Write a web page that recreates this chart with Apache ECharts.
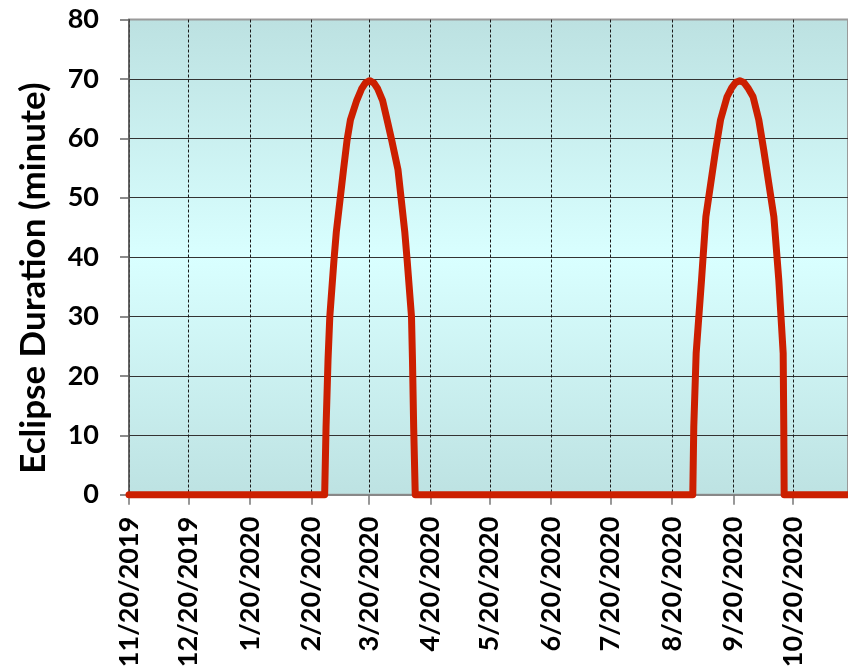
<!DOCTYPE html>
<html>
<head>
<meta charset="utf-8">
<script src="https://cdn.jsdelivr.net/npm/echarts@6/dist/echarts.min.js"></script>
<style>
html,body{margin:0;padding:0;background:#fff;}
#chart{width:848px;height:671px;}
</style>
</head>
<body>
<div id="chart"></div>
<script>
// ---- data (day offsets are days after 11/20/2019) ----
const axisStart = '11/20/2019';
const visibleEndDay = 362.7;   // the picture is cut off just before 11/20/2020
const tickLabels = ['11/20/2019','12/20/2019','1/20/2020','2/20/2020','3/20/2020','4/20/2020',
  '5/20/2020','6/20/2020','7/20/2020','8/20/2020','9/20/2020','10/20/2020'];
const yTicks = [0,10,20,30,40,50,60,70,80];

const offSeasonDay = [0, 366];

const season1Day = [98.7, 99.4, 100.4, 101.3, 103.4, 104.6, 108.2, 110.0, 111.7, 114.9, 117.3, 119.2, 121.4,
  123.6, 125.5, 127.9, 130.2, 132.5, 135.7, 139.1, 140.3, 142.5, 143.0, 143.6, 144.4];
const season1Min = [0, 11.4, 22.7, 30.0, 39.5, 44.3, 54.7, 59.7, 63.1, 66.4, 68.3, 69.3, 69.7,
  69.3, 68.3, 66.4, 63.1, 59.7, 54.7, 44.3, 39.5, 30.0, 22.7, 11.4, 0];

const season2Day = [284.4, 284.9, 286.1, 288.8, 291.0, 295.9, 298.4, 301.7, 304.0, 306.0, 308.1,
  310.2, 312.2, 314.8, 317.7, 320.2, 325.3, 327.8, 330.0, 330.3, 330.5];
const season2Min = [0, 11.4, 23.8, 36.1, 46.8, 58.0, 63.1, 67.0, 68.5, 69.4, 69.7,
  69.4, 68.5, 67.0, 63.1, 58.0, 46.8, 36.1, 23.8, 11.4, 0];

// ---- build ----
const DAY = 86400000;
function parseMDY(s){ const p = s.split('/').map(Number); return Date.UTC(p[2], p[0]-1, p[1]); }
const t0 = parseMDY(axisStart);
const dayOf = s => Math.round((parseMDY(s) - t0) / DAY);

const points = [];
points.push([offSeasonDay[0], 0]);
season1Day.forEach((d,i) => points.push([d, season1Min[i]]));
season2Day.forEach((d,i) => points.push([d, season2Min[i]]));
points.push([offSeasonDay[1], 0]);

const tickDays = tickLabels.map(dayOf);
const labelOf = {};
tickLabels.forEach((s,i) => labelOf[tickDays[i]] = s);

const FONT = 'Lato';
const chart = echarts.init(document.getElementById('chart'), null, {renderer:'canvas'});
chart.setOption({
  animation: false,
  grid: {
    left: 129, right: 0, top: 19.5, bottom: 176.3,
    show: true,
    borderColor: '#9a9a9a', borderWidth: 2,
    backgroundColor: {
      type: 'linear', x: 0, y: 0, x2: 0, y2: 1,
      colorStops: [
        {offset: 0, color: '#bce1e1'},
        {offset: 0.5, color: '#d9ffff'},
        {offset: 1, color: '#bde2e2'}
      ]
    }
  },
  xAxis: {
    type: 'value',
    min: 0,
    max: visibleEndDay,
    axisLine: {show: true, onZero: false, lineStyle: {color: '#888', width: 2}},
    axisTick: {show: true, customValues: tickDays, length: 10, lineStyle: {color: '#777', width: 1.5}},
    axisLabel: {
      customValues: tickDays,
      rotate: 90, margin: 22,
      fontFamily: FONT, fontWeight: 'bold', fontSize: 27, color: '#000',
      formatter: v => labelOf[v] || ''
    },
    splitLine: {show: true, lineStyle: {color: '#1a1a1a', width: 1, type: [3, 2]}}
  },
  yAxis: {
    type: 'value', min: yTicks[0], max: yTicks[yTicks.length-1], interval: 10,
    name: 'Eclipse Duration (minute)',
    nameLocation: 'middle', nameGap: 78,
    nameTextStyle: {fontFamily: FONT, fontWeight: 'bold', fontSize: 35, color: '#000', padding: [0, 42, 0, 0]},
    axisLine: {show: true, lineStyle: {color: '#555', width: 1.5}},
    axisTick: {show: true, length: 9, lineStyle: {color: '#666', width: 1.5}},
    axisLabel: {margin: 30, fontFamily: FONT, fontWeight: 'bold', fontSize: 27, color: '#000'},
    splitLine: {show: true, lineStyle: {color: ['#333','#333','#333','#333','#333','#333','#333','#333','#9a9a9a'], width: 1.2}}
  },
  series: [{
    type: 'line',
    data: points,
    showSymbol: false,
    clip: false,
    lineStyle: {color: '#cc1f00', width: 7, cap: 'round', join: 'round'},
    z: 5
  }]
});
</script>
</body>
</html>
